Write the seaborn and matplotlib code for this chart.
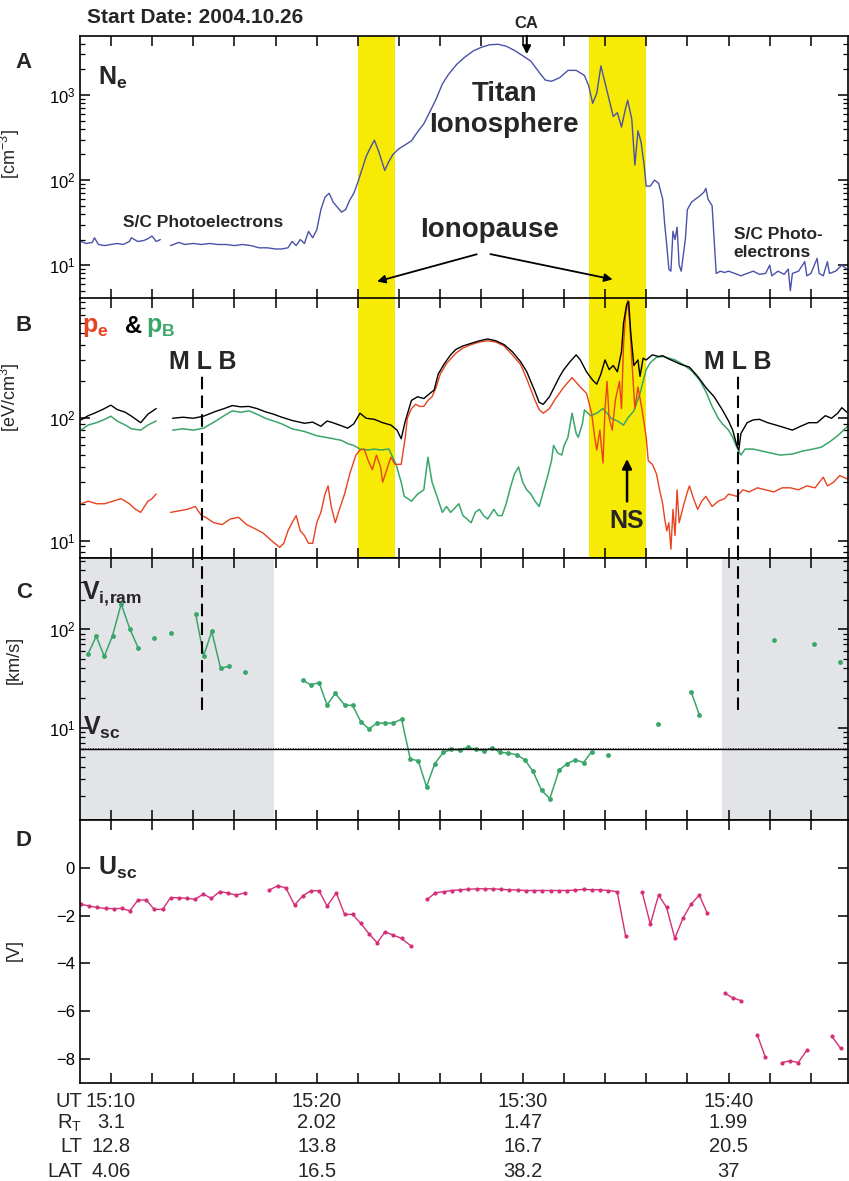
"""Cassini Titan flyby 2004-10-26: Ne, pressures, ion ram speed and S/C potential."""

import matplotlib
matplotlib.use("Agg")
import matplotlib.pyplot as plt
import matplotlib.transforms as mtransforms
import pandas as pd
import seaborn as sns
from matplotlib import font_manager
from matplotlib.ticker import FixedLocator, LogLocator, MultipleLocator, NullFormatter

# ---- data (time in minutes after 15:00 UT) ----
ne_t_1 = [8.55, 8.8, 9.1, 9.2, 9.4, 9.7, 10.0, 10.3, 10.6, 10.9, 11.0, 11.3, 11.6, 11.8, 12.0, 12.2, 12.4]
ne_v_1 = [19, 18, 18.5, 21, 17.5, 17, 17.5, 18, 17.5, 19, 21, 19, 19.5, 20.5, 22, 19, 20]
ne_t_2 = [12.9, 13.3, 13.6, 14.0, 14.4, 14.8, 15.2, 15.6, 16.0, 16.4, 16.8, 17.2, 17.6, 18.0, 18.3,
          18.6, 18.8, 19.0, 19.2, 19.4, 19.6, 19.8, 20.0, 20.2, 20.4, 20.6, 20.8, 21.0, 21.2, 21.4,
          21.6, 21.8, 22.0, 22.2, 22.4, 22.6, 22.8, 23.0, 23.15, 23.3, 23.5, 23.7, 24.0, 24.3, 24.6,
          24.9, 25.2, 25.5, 25.8, 26.1, 26.4, 26.8, 27.2, 27.6, 28.0, 28.4, 28.8, 29.2, 29.6, 30.0,
          30.4, 30.8, 31.1, 31.4, 31.8, 32.2, 32.6, 33.0, 33.2, 33.4, 33.6, 33.8, 34.0, 34.2, 34.4,
          34.6, 34.8, 35.0, 35.1, 35.3, 35.45, 35.6, 35.75, 35.9, 36.0, 36.2, 36.4, 36.6, 36.8, 36.9,
          37.0, 37.1, 37.2, 37.3, 37.4, 37.5, 37.6, 37.7, 37.8, 37.9, 38.0, 38.2, 38.4, 38.6, 38.8,
          38.9, 39.0, 39.2, 39.3, 39.4, 39.6, 39.8, 40.0, 40.3, 40.6, 40.9, 41.2, 41.5, 41.8, 42.0,
          42.1, 42.4, 42.7, 42.9, 43.0, 43.1, 43.4, 43.7, 43.8, 44.0, 44.3, 44.4, 44.6, 44.8, 44.9,
          45.2, 45.5, 45.75]
ne_v_2 = [17, 18.5, 17.5, 18, 17.5, 18, 17.5, 17.5, 17, 17.5, 17, 16, 16, 15.5, 15.5,
          16, 19, 17, 20, 18, 25, 21, 26, 45, 63, 70, 55, 48, 42, 45,
          58, 70, 95, 135, 190, 240, 295, 220, 170, 130, 165, 200, 235, 260, 290,
          370, 460, 640, 900, 1350, 1750, 2300, 2800, 3300, 3650, 3900, 3950, 3750, 3350, 2900,
          2500, 1850, 1500, 1450, 1600, 1950, 1950, 1700, 1300, 800, 1050, 2200, 1400, 900, 560,
          620, 420, 700, 870, 520, 150, 380, 280, 150, 85, 85, 100, 92, 60, 30,
          17, 9, 8.5, 25, 20, 28, 10, 8.5, 13, 20, 45, 55, 60, 65, 72,
          80, 60, 50, 20, 8, 8.5, 8.2, 8.5, 8, 7.5, 8, 8.5, 7.8, 8, 10,
          7.5, 8.5, 7.8, 9, 5, 8, 8.5, 11, 7.5, 8, 12, 8, 7.5, 11, 8,
          8.5, 10, 9]

ptot_t_1 = [8.55, 8.9, 9.2, 9.6, 10.0, 10.3, 10.7, 11.0, 11.45, 11.8, 12.2]
ptot_v_1 = [97, 105, 110, 118, 128, 118, 112, 104, 92, 108, 120]
ptot_t_2 = [13.0, 13.5, 14.0, 14.5, 15.1, 15.5, 15.9, 16.3, 16.7, 17.1, 17.5, 17.9, 18.3, 18.8, 19.4,
            19.8, 20.2, 20.5, 20.7, 21.1, 21.5, 21.8, 22.1, 22.4, 22.8, 23.2, 23.6, 23.9, 24.1, 24.3,
            24.6, 24.9, 25.2, 25.5, 25.7, 25.9, 26.2, 26.5, 26.75, 27.1, 27.5, 27.9, 28.3, 28.7, 29.1,
            29.5, 29.9, 30.2, 30.6, 30.8, 31.0, 31.3, 31.5, 31.8, 32.0, 32.3, 32.6, 32.8, 33.1, 33.4,
            33.6, 33.8, 34.0, 34.2, 34.4, 34.6, 34.8, 34.9, 35.05, 35.15, 35.25, 35.4, 35.6, 35.7, 35.85,
            36.0, 36.3, 36.6, 36.8, 37.1, 37.3, 37.7, 38.1, 38.5, 38.9, 39.3, 39.7, 40.0, 40.2, 40.4,
            40.5, 40.6, 40.9, 41.2, 41.5, 41.9, 42.3, 42.7, 43.1, 43.5, 43.9, 44.3, 44.7, 45.0, 45.3,
            45.5, 45.75]
ptot_v_2 = [100, 102, 100, 104, 114, 120, 127, 124, 125, 120, 113, 108, 102, 96, 91,
            93, 86, 95, 93, 88, 83, 90, 110, 100, 98, 92, 88, 80, 68, 95,
            140, 150, 145, 160, 170, 230, 280, 330, 365, 390, 410, 430, 445, 430, 400,
            350, 290, 240, 165, 135, 130, 150, 175, 220, 250, 290, 330, 300, 240, 205,
            190, 230, 300, 250, 270, 240, 350, 600, 850, 900, 500, 270, 300, 220, 310,
            300, 330, 320, 325, 305, 295, 275, 262, 220, 178, 150, 117, 95, 80, 60,
            55, 75, 92, 97, 98, 92, 88, 84, 80, 86, 92, 92, 105, 100, 110,
            122, 112]

pe_t_1 = [8.55, 8.9, 9.3, 9.7, 10.1, 10.5, 10.9, 11.2, 11.45, 11.8, 12.0, 12.2]
pe_v_1 = [20, 21, 20, 20, 21, 22, 20, 18, 17, 21, 22, 24]
pe_t_2 = [12.9, 13.3, 13.7, 14.1, 14.4, 14.6, 15.0, 15.4, 15.8, 16.2, 16.6, 17.0, 17.4, 17.8, 18.2,
          18.4, 18.6, 18.8, 19.0, 19.2, 19.4, 19.6, 19.8, 20.0, 20.2, 20.4, 20.55, 20.7, 20.9, 21.1,
          21.35, 21.6, 21.9, 22.1, 22.3, 22.5, 22.7, 22.9, 23.1, 23.2, 23.4, 23.6, 23.8, 24.1, 24.3,
          24.4, 24.6, 24.8, 25.0, 25.2, 25.4, 25.6, 25.8, 26.0, 26.3, 26.75, 27.1, 27.5, 27.9, 28.3,
          28.7, 29.1, 29.5, 29.9, 30.2, 30.6, 30.8, 31.0, 31.3, 31.6, 32.0, 32.4, 32.8, 33.1, 33.35,
          33.5, 33.6, 33.75, 33.9, 34.0, 34.1, 34.2, 34.35, 34.5, 34.7, 34.8, 34.9, 35.0, 35.1, 35.2,
          35.3, 35.45, 35.6, 35.8, 35.9, 36.0, 36.1, 36.3, 36.5, 36.65, 36.8, 36.9, 37.0, 37.1, 37.2,
          37.3, 37.4, 37.5, 37.6, 37.8, 38.0, 38.1, 38.3, 38.5, 38.7, 38.9, 39.2, 39.5, 39.8, 40.0,
          40.4, 40.7, 41.0, 41.4, 41.8, 42.2, 42.6, 43.0, 43.4, 43.8, 44.2, 44.6, 44.8, 45.1, 45.4,
          45.75]
pe_v_2 = [17, 17.5, 18, 19, 16, 15.5, 14, 13.5, 15, 15.5, 13.5, 12.5, 11.5, 10, 8.8,
          9.5, 12, 14, 16, 12, 11, 9.5, 9.5, 14, 17, 24, 28, 19, 14, 18,
          24, 35, 50, 55, 56, 45, 38, 50, 40, 30, 38, 48, 42, 42, 70,
          100, 120, 130, 125, 125, 140, 150, 180, 230, 280, 340, 375, 400, 420, 430,
          420, 390, 330, 275, 210, 140, 118, 110, 120, 145, 180, 215, 180, 160, 110,
          70, 55, 80, 43, 120, 200, 100, 80, 140, 200, 120, 400, 700, 920, 600,
          300, 120, 180, 117, 90, 70, 45, 42, 35, 26, 20, 15, 12, 14, 8.5,
          18, 11, 26, 14, 19, 25, 28, 22, 18, 21, 23, 19, 21, 22, 24,
          23, 26, 25, 27, 26, 25, 27, 27, 26, 28, 27, 33, 28, 30, 34,
          32]

pb_t_1 = [8.55, 8.9, 9.3, 9.7, 10.0, 10.3, 10.7, 11.0, 11.45, 11.8, 12.2]
pb_v_1 = [80, 88, 92, 98, 104, 95, 88, 82, 80, 88, 95]
pb_t_2 = [13.0, 13.5, 14.0, 14.5, 15.1, 15.5, 15.9, 16.3, 16.7, 17.1, 17.5, 17.9, 18.3, 18.8, 19.4,
          20.0, 20.4, 20.8, 21.2, 21.5, 21.8, 22.1, 22.5, 22.8, 23.1, 23.5, 23.85, 24.1, 24.25, 24.6,
          24.9, 25.2, 25.4, 25.6, 25.8, 26.1, 26.3, 26.5, 26.9, 27.1, 27.3, 27.5, 27.7, 27.9, 28.1,
          28.3, 28.6, 28.8, 29.0, 29.2, 29.4, 29.6, 29.8, 30.0, 30.2, 30.4, 30.6, 30.8, 31.0, 31.2,
          31.4, 31.5, 31.7, 31.9, 32.0, 32.2, 32.4, 32.6, 32.7, 32.9, 33.0, 33.3, 33.6, 33.9, 34.1,
          34.3, 34.6, 34.9, 35.1, 35.4, 35.7, 36.0, 36.2, 36.5, 36.8, 37.1, 37.4, 37.8, 38.2, 38.6,
          38.9, 39.2, 39.5, 39.7, 40.0, 40.2, 40.4, 40.6, 40.8, 41.2, 41.6, 42.05, 42.5, 43.1, 43.6,
          44.1, 44.5, 44.9, 45.3, 45.75]
pb_v_2 = [80, 82, 80, 83, 95, 105, 115, 112, 115, 108, 100, 95, 90, 82, 78,
          72, 70, 68, 66, 62, 60, 56, 55, 56, 55, 56, 42, 30, 23, 21,
          24, 26, 48, 30, 24, 17, 19, 17, 20, 16, 15, 14, 17, 18, 16,
          15, 18, 16, 16, 20, 27, 35, 40, 30, 26, 24, 21, 19, 25, 33,
          45, 60, 52, 50, 59, 70, 110, 75, 70, 90, 117, 105, 110, 120, 110,
          100, 95, 88, 100, 115, 160, 250, 285, 315, 320, 310, 300, 275, 245, 205,
          165, 125, 100, 90, 80, 70, 58, 50, 56, 56, 54, 52, 50, 51, 54,
          56, 58, 64, 72, 85]

# ion ram speed: connected segments (single points are isolated samples)
vi_segments = [
    ([8.89, 9.29, 9.68, 10.08, 10.5, 10.92, 11.32], [56, 85, 53, 86, 181, 101, 65]),
    ([12.11], [81]),
    ([12.93], [91]),
    ([14.12, 14.51, 14.9, 15.33, 15.72], [142, 54, 95, 40, 42]),
    ([16.52], [36.6]),
    ([19.31, 19.71, 20.11, 20.5, 20.9, 21.35, 21.74, 22.14, 22.53, 22.93, 23.32, 23.72, 24.12,
      24.54, 24.93, 25.33, 25.73, 26.15, 26.54, 26.94, 27.33, 27.73, 28.13, 28.52, 28.92, 29.31,
      29.71, 30.11, 30.5, 30.92, 31.32, 31.77, 32.16, 32.56, 32.96, 33.35],
     [30.5, 27.2, 28.7, 17.0, 22.3, 17.0, 16.8, 11.5, 9.7, 11.1, 11.1, 11.1, 12.2,
      4.8, 4.6, 2.5, 4.3, 5.6, 6.0, 5.9, 6.3, 6.0, 5.8, 6.2, 5.6, 5.5,
      5.3, 4.7, 3.6, 2.3, 1.9, 3.7, 4.3, 4.7, 4.4, 5.7]),
    ([34.14], [5.3]),
    ([36.57], [10.9]),
    ([38.18, 38.58], [23.2, 13.5]),
    ([42.19], [78]),
    ([44.17], [71]),
    ([45.41], [46]),
]
v_sc = 6.0

# spacecraft potential
usc_segments = [
    ([8.55, 8.94, 9.34, 9.74, 10.13, 10.53, 10.92, 11.32, 11.72, 12.11, 12.51, 12.9, 13.3, 13.69,
      14.09, 14.49, 14.88, 15.28, 15.67, 16.07, 16.52],
     [-1.52, -1.6, -1.66, -1.7, -1.71, -1.7, -1.8, -1.35, -1.35, -1.74, -1.74, -1.25, -1.25, -1.28,
      -1.32, -1.1, -1.28, -1.0, -1.05, -1.14, -1.05]),
    ([17.7, 18.1, 18.5, 18.92, 19.31, 19.71, 20.11, 20.5, 20.95, 21.35, 21.74, 22.14, 22.53, 22.93,
      23.32, 23.72, 24.12, 24.56],
     [-0.93, -0.75, -0.84, -1.56, -1.18, -0.96, -0.96, -1.6, -1.05, -1.95, -1.95, -2.33, -2.75, -3.14,
      -2.68, -2.82, -2.95, -3.26]),
    ([25.36, 25.76, 26.16, 26.56, 26.96, 27.36, 27.76, 28.16, 28.56, 28.96, 29.36, 29.76, 30.16,
      30.56, 30.96, 31.36, 31.76, 32.16, 32.56, 32.96, 33.36, 33.76, 34.16, 34.59, 35.0],
     [-1.32, -1.05, -1.0, -0.95, -0.92, -0.9, -0.88, -0.88, -0.88, -0.9, -0.92, -0.93, -0.95,
      -0.95, -0.95, -0.95, -0.95, -0.95, -0.93, -0.9, -0.92, -0.92, -0.95, -1.0, -2.85]),
    ([35.8, 36.2, 36.6, 36.99, 37.39, 37.78, 38.18, 38.58, 38.97],
     [-1.0, -2.36, -1.14, -1.66, -2.95, -2.12, -1.52, -1.14, -1.91]),
    ([39.82, 40.21, 40.61], [-5.25, -5.44, -5.56]),
    ([41.4, 41.79], [-7.0, -7.93]),
    ([42.59, 42.98, 43.38, 43.83], [-8.15, -8.07, -8.15, -7.6]),
    ([45.01, 45.44], [-7.04, -7.55]),
]
usc_ticks = [-8, -6, -4, -2, 0]

ionopause_bands = [(22.0, 23.8), (33.2, 36.0)]
gray_bands = [(8.5, 17.9), (39.7, 45.8)]
mlb_times = [14.45, 40.45]
ca_time = 30.2

tick_times = [10, 20, 30, 40]
ut_labels = ["15:10", "15:20", "15:30", "15:40"]
rt_labels = ["3.1", "2.02", "1.47", "1.99"]
lt_labels = ["12.8", "13.8", "16.7", "20.5"]
lat_labels = ["4.06", "16.5", "38.2", "37"]


def seg_frame(parts):
    frames = [pd.DataFrame({"t": t, "v": v, "seg": i}) for i, (t, v) in enumerate(parts)]
    return pd.concat(frames, ignore_index=True)


def main():
    sns.set_style("ticks")
    names = {f.name for f in font_manager.fontManager.ttflist}
    base = "Liberation Sans Narrow" if "Liberation Sans Narrow" in names else "Liberation Sans"
    plt.rcParams["font.family"] = [base, "DejaVu Sans"]
    plt.rcParams["mathtext.fontset"] = "custom"
    plt.rcParams["mathtext.rm"] = base
    plt.rcParams["mathtext.bf"] = base + ":bold"
    plt.rcParams["mathtext.it"] = base + ":italic"
    plt.rcParams["axes.linewidth"] = 1.2

    blue = "#4a52a8"
    red = "#e8421e"
    green = "#3aa66a"
    pink = "#d42f78"
    yellow = "#f7ea05"
    gray = "#e2e4e7"

    fig = plt.figure(figsize=(8.49, 11.81), dpi=100)
    left, width = 0.0942, 0.9046
    axA = fig.add_axes([left, 0.7468, width, 0.2227])
    axB = fig.add_axes([left, 0.5275, width, 0.2202], sharex=axA)
    axC = fig.add_axes([left, 0.3057, width, 0.2218], sharex=axA)
    axD = fig.add_axes([left, 0.0830, width, 0.2227], sharex=axA)
    axes = [axA, axB, axC, axD]

    # ---- A: electron density ----
    axA.set_yscale("log")
    for lo, hi in ionopause_bands:
        axA.axvspan(lo, hi, color=yellow, lw=0, zorder=0)
        axB.axvspan(lo, hi, color=yellow, lw=0, zorder=0)
    ne = seg_frame([(ne_t_1, ne_v_1), (ne_t_2, ne_v_2)])
    sns.lineplot(data=ne, x="t", y="v", units="seg", estimator=None, color=blue, lw=1.0, ax=axA)
    axA.set_ylim(4, 4940)
    axA.set_ylabel("[cm$^{-3}$]", fontsize=13)

    axA.text(0.023, 0.84, r"$\mathbf{N_e}$", transform=axA.transAxes, fontsize=18, va="center")
    axA.text(29.1, 680, "Titan\nIonosphere", ha="center", va="center", fontsize=20,
             fontweight="bold", linespacing=1.25)
    axA.text(14.5, 32, "S/C Photoelectrons", ha="center", va="center", fontsize=12.5, fontweight="bold")
    axA.text(40.25, 18, "S/C Photo-\nelectrons", ha="left", va="center", fontsize=12.5,
             fontweight="bold", linespacing=1.3)
    axA.text(28.4, 26, "Ionopause", ha="center", va="center", fontsize=20, fontweight="bold")
    arrow = dict(arrowstyle="-|>", color="k", lw=1.3, mutation_scale=12)
    axA.annotate("", xy=(22.8, 6.3), xytext=(27.9, 13.7), arrowprops=arrow)
    axA.annotate("", xy=(34.5, 6.7), xytext=(28.3, 13.7), arrowprops=arrow)
    axA.annotate("CA", xy=(ca_time, 2800), xytext=(ca_time, 6900), ha="center", va="center",
                 fontsize=12, fontweight="bold", annotation_clip=False,
                 arrowprops=dict(arrowstyle="-|>", color="k", lw=1.5, mutation_scale=12, shrinkA=1))

    # ---- B: pressures ----
    axB.set_yscale("log")
    ptot = seg_frame([(ptot_t_1, ptot_v_1), (ptot_t_2, ptot_v_2)])
    pe = seg_frame([(pe_t_1, pe_v_1), (pe_t_2, pe_v_2)])
    pb = seg_frame([(pb_t_1, pb_v_1), (pb_t_2, pb_v_2)])
    sns.lineplot(data=pb, x="t", y="v", units="seg", estimator=None, color=green, lw=1.1, ax=axB)
    sns.lineplot(data=pe, x="t", y="v", units="seg", estimator=None, color=red, lw=1.0, ax=axB)
    sns.lineplot(data=ptot, x="t", y="v", units="seg", estimator=None, color="black", lw=1.0, ax=axB)
    axB.set_ylim(7.2, 963)
    axB.set_ylabel("[eV/cm$^3$]", fontsize=13)
    axB.vlines(mlb_times, 7.2, 233, colors="black", linestyles=(0, (6, 3)), lw=1.5)
    for t in mlb_times:
        axB.text(t, 289, "M L B", ha="center", va="center", fontsize=18, fontweight="bold")
    axB.text(0.003, 0.89, r"$\mathbf{p_e}$", color=red, transform=axB.transAxes, fontsize=18, va="center")
    axB.text(0.058, 0.89, "&", color="black", transform=axB.transAxes, fontsize=17,
             fontweight="bold", va="center")
    axB.text(0.086, 0.89, r"$\mathbf{p_B}$", color=green, transform=axB.transAxes, fontsize=18, va="center")
    axB.annotate("NS", xy=(35.07, 49), xytext=(35.07, 14.5), ha="center", va="center",
                 fontsize=18, fontweight="bold",
                 arrowprops=dict(arrowstyle="-|>", color="k", lw=1.8, mutation_scale=14, shrinkA=3))

    # ---- C: ion ram speed ----
    axC.set_yscale("log")
    for lo, hi in gray_bands:
        axC.axvspan(lo, hi, color=gray, lw=0, zorder=0)
    vi = seg_frame(vi_segments)
    sns.lineplot(data=vi, x="t", y="v", units="seg", estimator=None, color=green, lw=1.1,
                 marker="o", markersize=3.5, markeredgewidth=0, ax=axC)
    axC.axhline(v_sc, color="black", lw=1.0)
    axC.axhline(v_sc * 1.03, color="black", lw=0.6, ls=(0, (1, 2)))
    axC.set_ylim(1.15, 530)
    axC.set_ylabel("[km/s]", fontsize=13)
    axC.vlines(mlb_times, 15, 530, colors="black", linestyles=(0, (6, 3)), lw=1.5)
    axC.text(0.003, 0.865, r"$\mathbf{V_{i,\!ram}}$", transform=axC.transAxes, fontsize=18, va="center")
    axC.text(8.65, 10, r"$\mathbf{V_{sc}}$", fontsize=18, va="center", ha="left")

    # ---- D: spacecraft potential ----
    us = seg_frame(usc_segments)
    sns.lineplot(data=us, x="t", y="v", units="seg", estimator=None, color=pink, lw=1.0,
                 marker="o", markersize=3, markeredgewidth=0, ax=axD)
    axD.set_ylim(-9, 2)
    axD.yaxis.set_major_locator(FixedLocator(usc_ticks))
    axD.set_ylabel("[V]", fontsize=13)
    axD.text(9.38, 0, r"$\mathbf{U_{sc}}$", fontsize=18, va="center", ha="left")

    # ---- common axis styling ----
    for ax in axes:
        ax.set_xlim(8.5, 45.8)
        ax.xaxis.set_major_locator(MultipleLocator(2))
        ax.set_xlabel("")
        ax.tick_params(axis="x", which="both", labelbottom=False)
        ax.tick_params(which="both", direction="in", top=True, right=True, colors="black",
                       labelsize=12)
        ax.tick_params(which="major", length=7, width=1.1)
        ax.tick_params(which="minor", length=3.5, width=0.9)
        ax.yaxis.set_label_coords(-0.075, 0.55)
        for s in ax.spines.values():
            s.set_color("black")
        if ax.get_yscale() == "log":
            ax.yaxis.set_major_locator(LogLocator(base=10))
            ax.yaxis.set_minor_locator(LogLocator(base=10, subs=range(2, 10)))
            ax.yaxis.set_minor_formatter(NullFormatter())
    axB.yaxis.set_label_coords(-0.075, 0.62)
    axC.yaxis.set_label_coords(-0.075, 0.61)
    axD.yaxis.set_label_coords(-0.075, 0.506)

    # ---- bottom ephemeris rows ----
    trans = mtransforms.blended_transform_factory(axD.transData, axD.transAxes)
    rows = [("UT", ut_labels, -0.072), ("R$_\\mathrm{T}$", rt_labels, -0.152),
            ("LT", lt_labels, -0.243), ("LAT", lat_labels, -0.338)]
    for name, vals, y in rows:
        axD.text(8.62, y, name, transform=trans, ha="right", va="center", fontsize=14.5, clip_on=False)
        for t, s in zip(tick_times, vals):
            axD.text(t, y, s, transform=trans, ha="center", va="center", fontsize=14.5, clip_on=False)

    # ---- panel letters and title ----
    for lab, y in zip("ABCD", [0.9475, 0.7248, 0.4979, 0.2887]):
        fig.text(0.028, y, lab, fontsize=16, fontweight="bold", ha="center", va="center")
    fig.text(0.1025, 0.985, "Start Date: 2004.10.26", fontsize=15, fontweight="bold", va="center")

    fig.savefig("out.png", dpi=100)
    plt.close(fig)


if __name__ == "__main__":
    main()
